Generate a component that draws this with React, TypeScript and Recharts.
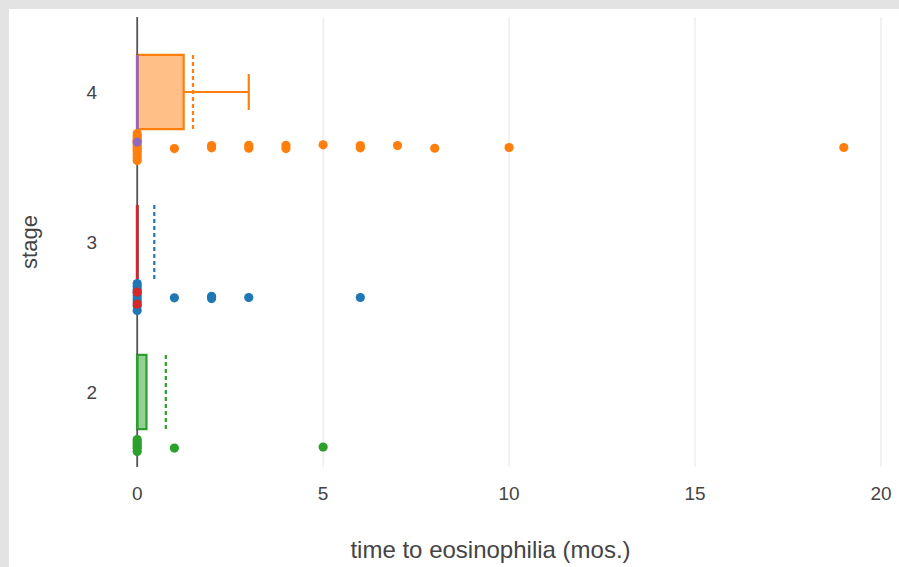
import React from 'react';
import {
  ComposedChart,
  Scatter,
  XAxis,
  YAxis,
  ReferenceArea,
  ReferenceLine,
} from 'recharts';

// ---------- data ----------
const stageTicks = [2, 3, 4];
const timeTicks = [0, 5, 10, 15, 20];

// box traces (plotly order: blue, orange, green, red, purple)
const traceStage = [3, 4, 2, 3, 4];
const traceColor = ['#1f77b4', '#ff7f0e', '#2ca02c', '#d62728', '#9467bd'];
const traceQ1 = [0, 0, 0, 0, 0];
const traceMedian = [0, 0, 0, 0, 0];
const traceQ3 = [0, 1.25, 0.25, 0, 0];
const traceUpperWhisker = [0, 3, 0, 0, 0];
const traceMean = [0.46, 1.5, 0.77, 0, 0];

// individual points (time to eosinophilia, months)
const bluePoints = [0, 0, 0, 0, 0, 0, 0, 0, 0, 1, 2, 2, 3, 6];
const blueJitter = [0.09, 0.07, 0.05, 0.03, 0.01, -0.01, -0.03, -0.06, -0.09, -0.005, 0.005, -0.01, -0.003, -0.003];
const orangePoints = [0, 0, 0, 0, 0, 0, 0, 0, 0, 0, 0, 0, 1, 2, 2, 3, 3, 4, 4, 5, 6, 6, 7, 8, 10, 19];
const orangeJitter = [0.09, 0.075, 0.06, 0.045, 0.03, 0.015, 0, -0.015, -0.03, -0.05, -0.07, -0.09, -0.01, 0.01, -0.005, 0.012, -0.008, 0.012, -0.01, 0.015, 0.01, -0.005, 0.01, -0.008, -0.003, -0.003];
const greenPoints = [0, 0, 0, 0, 0, 0, 1, 5];
const greenJitter = [0.05, 0.035, 0.02, 0.005, -0.01, -0.03, -0.007, 0.0];
const redPoints = [0, 0];
const redJitter = [0.033, -0.047];
const purplePoints = [0];
const purpleJitter = [0.033];

// ---------- layout constants ----------
const BOX_HALF = 0.247;
const CAP_HALF = 0.12;
const POINT_OFFSET = 0.367;

const makePoints = (stage: number, vals: number[], jit: number[]) =>
  vals.map((v, i) => ({ x: v, y: stage - POINT_OFFSET + jit[i] }));

const pointSets = [
  { color: traceColor[0], data: makePoints(3, bluePoints, blueJitter) },
  { color: traceColor[1], data: makePoints(4, orangePoints, orangeJitter) },
  { color: traceColor[2], data: makePoints(2, greenPoints, greenJitter) },
  { color: traceColor[3], data: makePoints(3, redPoints, redJitter) },
  { color: traceColor[4], data: makePoints(4, purplePoints, purpleJitter) },
];

const FONT = '"Liberation Sans", Arial, sans-serif';

export default function App() {
  const boxes: React.ReactNode[] = [];
  traceStage.forEach((stage, i) => {
    const c = traceColor[i];
    const lo = stage - BOX_HALF;
    const hi = stage + BOX_HALF;
    if (traceQ3[i] > traceQ1[i]) {
      boxes.push(
        <ReferenceArea
          key={`box${i}`}
          x1={traceQ1[i]}
          x2={traceQ3[i]}
          y1={lo}
          y2={hi}
          fill={c}
          fillOpacity={0.5}
          stroke={c}
          strokeWidth={2.2}
          strokeOpacity={1}
          ifOverflow="visible"
        />
      );
    } else {
      boxes.push(
        <ReferenceLine
          key={`flat${i}`}
          segment={[{ x: traceQ1[i], y: lo }, { x: traceQ1[i], y: hi }]}
          stroke={c}
          strokeWidth={2.5}
          ifOverflow="visible"
        />
      );
    }
    boxes.push(
      <ReferenceLine
        key={`med${i}`}
        segment={[{ x: traceMedian[i], y: lo }, { x: traceMedian[i], y: hi }]}
        stroke={c}
        strokeWidth={2.5}
        ifOverflow="visible"
      />
    );
    if (traceUpperWhisker[i] > traceQ3[i]) {
      boxes.push(
        <ReferenceLine
          key={`wh${i}`}
          segment={[{ x: traceQ3[i], y: stage }, { x: traceUpperWhisker[i], y: stage }]}
          stroke={c}
          strokeWidth={2.2}
          ifOverflow="visible"
        />
      );
      boxes.push(
        <ReferenceLine
          key={`cap${i}`}
          segment={[
            { x: traceUpperWhisker[i], y: stage - CAP_HALF },
            { x: traceUpperWhisker[i], y: stage + CAP_HALF },
          ]}
          stroke={c}
          strokeWidth={2.2}
          ifOverflow="visible"
        />
      );
    }
    if (traceMean[i] > 0) {
      boxes.push(
        <ReferenceLine
          key={`mean${i}`}
          segment={[{ x: traceMean[i], y: lo }, { x: traceMean[i], y: hi }]}
          stroke={c}
          strokeWidth={2.2}
          strokeDasharray="4 3"
          ifOverflow="visible"
        />
      );
    }
  });

  return (
    <div
      style={{
        position: 'absolute',
        left: 0,
        top: 0,
        width: 899,
        height: 567,
        background: '#e3e3e3',
        fontFamily: FONT,
      }}
    >
      <div
        style={{
          position: 'absolute',
          left: 9,
          top: 9,
          width: 890,
          height: 558,
          background: '#ffffff',
        }}
      >
        <ComposedChart
          width={890}
          height={558}
          margin={{ top: 8, right: 18, bottom: 0, left: 0 }}
        >
          <XAxis
            type="number"
            dataKey="x"
            domain={[-1, 20]}
            ticks={timeTicks}
            allowDataOverflow
            axisLine={false}
            tickLine={false}
            tickSize={0}
            tickMargin={20}
            height={100}
            tick={{ fill: '#444', fontSize: 19, fontFamily: FONT }}
            label={{
              value: 'time to eosinophilia (mos.)',
              position: 'insideBottom',
              offset: 9,
              fill: '#444',
              fontSize: 24,
              fontFamily: FONT,
            }}
          />
          <YAxis
            type="number"
            dataKey="y"
            domain={[1.5, 4.5]}
            ticks={stageTicks}
            allowDataOverflow
            axisLine={false}
            tickLine={false}
            tickSize={0}
            tickMargin={3}
            width={91}
            tick={{ fill: '#444', fontSize: 19, fontFamily: FONT }}
            label={(props: any) => {
              const vb = props.viewBox || {};
              const cy = (vb.y ?? 8) + (vb.height ?? 450) / 2;
              const cx = 20;
              return (
                <text
                  x={cx}
                  y={cy}
                  transform={`rotate(-90, ${cx}, ${cy})`}
                  textAnchor="middle"
                  dominantBaseline="central"
                  fill="#444"
                  fontSize={22}
                  fontFamily={FONT}
                >
                  stage
                </text>
              );
            }}
          />
          {timeTicks
            .filter((t) => t !== 0)
            .map((t) => (
              <ReferenceLine key={`grid${t}`} x={t} stroke="#eeeeee" strokeWidth={1.5} />
            ))}
          <ReferenceLine x={0} stroke="#555" strokeWidth={1.8} />
          {boxes}
          {pointSets.map((s, i) => (
            <Scatter
              key={`pts${i}`}
              data={s.data}
              isAnimationActive={false}
              shape={(p: any) => (
                <circle cx={p.cx} cy={p.cy} r={4.6} fill={s.color} />
              )}
            />
          ))}
        </ComposedChart>
      </div>
    </div>
  );
}
